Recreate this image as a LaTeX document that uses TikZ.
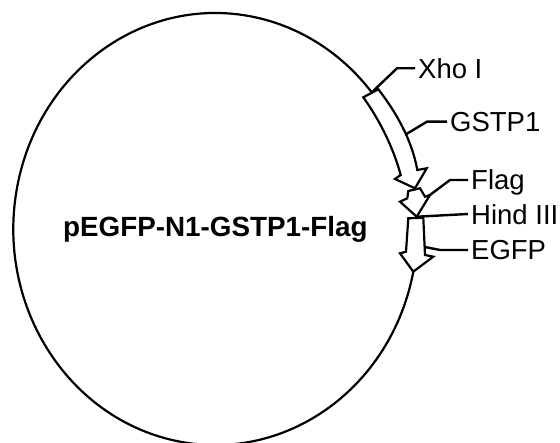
\documentclass[tikz,border=0pt]{standalone}
\usepackage{fontspec}
\setmainfont{Liberation Sans}
\begin{document}
\begin{tikzpicture}[x=1pt,y=-1pt,
  outline/.style={line width=2.2pt, line join=miter},
  leader/.style={line width=2.4pt},
  lbl/.style={font=\fontsize{27.5}{30}\selectfont, anchor=base west, inner xsep=3pt, inner ysep=0pt},
  title/.style={font=\bfseries\fontsize{27.8}{32}\selectfont, anchor=base west, inner sep=0pt}]
\useasboundingbox (0,0) rectangle (560,443);
% key points
\coordinate (xhoTL) at (363.3,97.3);
\coordinate (xhoTR) at (378.3,89.3);
\coordinate (xhoM) at (370.8,93.3);
\coordinate (xhoB) at (397,68.3);
\coordinate (gstpTip) at (415,188.3);
\coordinate (gstpK) at (406.5,134);
\coordinate (gstpB) at (427,121.7);
\coordinate (flagK) at (428,196.5);
\coordinate (flagB) at (450,180);
\coordinate (flagTip) at (416.7,216.7);
\coordinate (hindB) at (450,214);
\coordinate (egfpTip) at (413.3,271.7);
\coordinate (egfpK) at (425,247);
\coordinate (egfpB) at (440,250);
% labels
\node[lbl] (xho) at (415,78.2) {Xho I};
\node[lbl] (gstp) at (447,131.6) {GSTP1};
\node[lbl] (flag) at (468,189.9) {Flag};
\node[lbl] (hind) at (468,224.5) {Hind III};
\node[lbl] (egfp) at (468,259.9) {EGFP};
\node[title] (name) at (63,237) {pEGFP-N1-GSTP1-Flag};
% plasmid circle
\draw[outline] (egfpTip) arc[start angle=11.4, end angle=320.65, x radius=202, y radius=216];
% GSTP1 arrow
\draw[outline,fill=white] (xhoTL) -- (xhoTR) .. controls (396,112) and (412,140) .. (417.3,170)
  -- (426.7,168.3) -- (gstpTip) -- (395,179) -- (400.7,175)
  .. controls (394,150) and (381,122) .. (xhoTL) -- cycle;
% Flag arrow
\draw[outline,fill=white] (408.3,191) -- (420,188.3) -- (425,196.7) -- (430,195) -- (flagTip)
  -- (400,201.7) -- (407.3,198.3) -- cycle;
% EGFP arrow
\draw[outline,fill=white] (408.3,218.3) -- (423.3,217.7) -- (425,255) -- (433.3,256.7) -- (egfpTip)
  -- (400,253.3) -- (406,251.7) -- cycle;
% leaders
\draw[leader] (xhoM) -- (xhoB) -- (xhoB -| xho.west);
\draw[leader] (gstpK) -- (gstpB) -- (gstpB -| gstp.west);
\draw[leader] (flagK) -- (flagB) -- (flagB -| flag.west);
\draw[leader] (flagTip) -- (hindB -| hind.west);
\draw[leader] (egfpK) -- (egfpB) -- (egfpB -| egfp.west);
\end{tikzpicture}
\end{document}
